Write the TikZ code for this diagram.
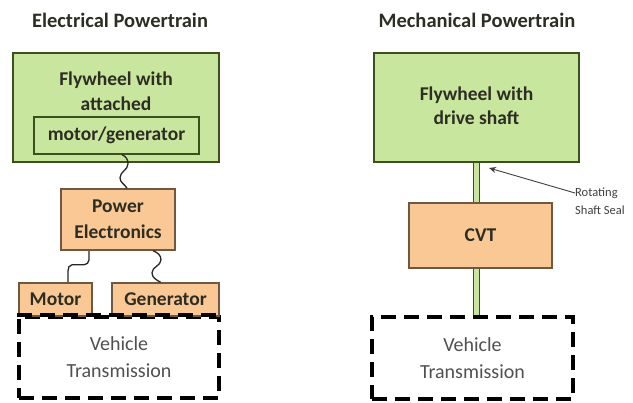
\documentclass[tikz,border=0pt]{standalone}
\usepackage{fontspec}
\setmainfont{Carlito}
\usetikzlibrary{arrows.meta,backgrounds}
\definecolor{fwgreen}{RGB}{200,230,158}
\definecolor{fwborder}{RGB}{60,80,30}
\definecolor{orfill}{RGB}{250,200,148}
\definecolor{orborder}{RGB}{110,88,66}
\definecolor{txt}{RGB}{45,45,35}
\definecolor{vtxt}{RGB}{80,80,80}
\tikzset{
  title/.style={font=\fontsize{20.5}{22}\selectfont\bfseries, text=txt, inner sep=0pt},
  greenbox/.style={draw=fwborder, fill=fwgreen, line width=1.6pt, inner sep=0pt},
  orbox/.style={draw=orborder, fill=orfill, line width=1.6pt, inner sep=0pt,
    font=\fontsize{19.5}{26}\selectfont\bfseries, text=txt, align=center},
  boxtext/.style={font=\fontsize{19.5}{24.5}\selectfont\bfseries, text=txt, align=center, inner sep=0pt},
  vtbox/.style={draw=black, line width=3.6pt, dash pattern=on 15pt off 8pt, inner sep=0pt,
    font=\fontsize{20}{27}\selectfont, text=vtxt, align=center},
  wire/.style={draw=black!85, line width=1.3pt},
  shaft/.style={draw=fwborder, line width=1.3pt, double=fwgreen, double distance=5pt},
  sealarrow/.style={draw=black!75, line width=0.9pt, -{Stealth[length=7pt,width=6pt]}},
  seallbl/.style={font=\fontsize{12.5}{18}\selectfont, text=black!75, align=left, inner sep=0pt}
}
\begin{document}
\begin{tikzpicture}[x=1pt,y=1pt]
\useasboundingbox (0,0) rectangle (633,-403);
% titles
\node[title] (t1) at (120,-20) {Electrical Powertrain};
\node[title] (t2) at (477,-20) {Mechanical Powertrain};
% left column
\node[greenbox, minimum width=206, minimum height=109] (fw1) at (116,-107.5) {};
\node[boxtext] (fw1t) at (116,-91) {Flywheel with\\attached};
\node[greenbox, minimum width=165, minimum height=37, font=\fontsize{19.5}{24}\selectfont\bfseries, text=txt] (mg) at (116.5,-135.5) {motor/generator};
\node[orbox, minimum width=114, minimum height=61] (pe) at (118,-219.5) {Power\\Electronics};
\node[vtbox, minimum width=200, minimum height=81] (vt1) at (119,-357.5) {Vehicle\\Transmission};
\node[orbox, minimum width=73, minimum height=33] (motor) at (55.5,-299.5) {Motor};
\node[orbox, minimum width=107, minimum height=33] (gen) at (165.5,-299.5) {Generator};
\draw[vtbox] (vt1.north west) -- (vt1.north east);
% wires
\draw[wire] ([xshift=5.5]mg.south) to[out=-20,in=90] ++(6,-9) to[out=-90,in=90] ++(-8,-14) to[out=-90,in=120] ([xshift=9]pe.north);
\draw[wire] ([xshift=-29]pe.south) -- ++(0,-9) to[out=-90,in=0] ++(-5,-5) -- ++(-12,0) to[out=180,in=90] ++(-4,-6) -- ([xshift=12.5]motor.north);
\draw[wire] ([xshift=35]pe.south) to[out=-20,in=90] ++(8,-9) to[out=-90,in=90] ++(-9,-13) to[out=-90,in=150] ([xshift=-5]gen.north);
% right column
\node[greenbox, minimum width=205, minimum height=109] (fw2) at (476.5,-107.5) {};
\node[boxtext] (fw2t) at (476.5,-105.5) {Flywheel with\\drive shaft};
\node[orbox, minimum width=143, minimum height=65] (cvt) at (480.5,-235.5) {CVT};
\node[vtbox, minimum width=201, minimum height=82] (vt2) at (472.5,-358) {Vehicle\\Transmission};
\begin{scope}[on background layer]
\draw[shaft] (fw2.south) -- (fw2.south |- cvt.north);
\draw[shaft] (fw2.south |- cvt.south) -- (fw2.south |- vt2.north);
\end{scope}
\node[seallbl, anchor=west] (seal) at (575,-201) {Rotating\\Shaft Seal};
\coordinate (sealpt) at (489,-168);
\draw[sealarrow] ([yshift=8]seal.west) -- (sealpt);
\end{tikzpicture}
\end{document}
